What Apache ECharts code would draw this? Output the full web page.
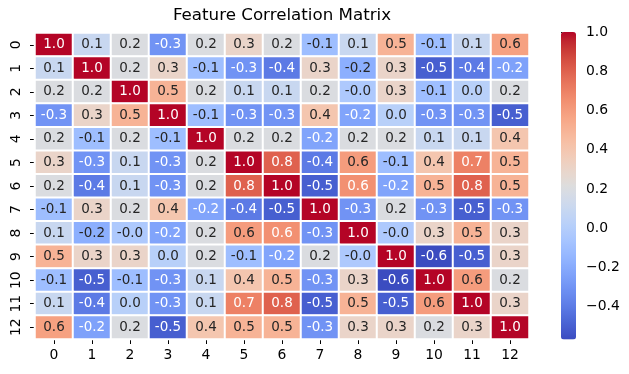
<!DOCTYPE html>
<html><head><meta charset="utf-8">
<script src="https://cdn.jsdelivr.net/npm/echarts@6/dist/echarts.min.js"></script>
<style>html,body{margin:0;padding:0;background:#fff}#c{width:629px;height:374px}</style>
</head><body><div id="c"></div>
<script>
const features = ['0','1','2','3','4','5','6','7','8','9','10','11','12'];
const corr = [
  [1.00, 0.10, 0.20,-0.30, 0.20, 0.30, 0.20,-0.10, 0.10, 0.50,-0.10, 0.10, 0.58],
  [0.10, 1.00, 0.20, 0.30,-0.10,-0.30,-0.40, 0.30,-0.18, 0.30,-0.50,-0.40,-0.24],
  [0.20, 0.20, 1.00, 0.50, 0.20, 0.10, 0.10, 0.20,-0.03, 0.30,-0.10, 0.02, 0.20],
  [-0.30,0.30, 0.50, 1.00,-0.10,-0.30,-0.30, 0.40,-0.23, 0.02,-0.30,-0.30,-0.50],
  [0.20,-0.10, 0.20,-0.10, 1.00, 0.20, 0.20,-0.23, 0.20, 0.20, 0.10, 0.10, 0.40],
  [0.30,-0.30, 0.10,-0.30, 0.20, 1.00, 0.80,-0.40, 0.60,-0.10, 0.40, 0.70, 0.50],
  [0.20,-0.40, 0.10,-0.30, 0.20, 0.80, 1.00,-0.50, 0.645,-0.23,0.50, 0.80, 0.50],
  [-0.10,0.30, 0.20, 0.40,-0.23,-0.40,-0.50, 1.00,-0.30, 0.20,-0.30,-0.50,-0.30],
  [0.10,-0.18,-0.03,-0.23, 0.20, 0.60, 0.645,-0.30,1.00,-0.03, 0.30, 0.50, 0.30],
  [0.50, 0.30, 0.30, 0.02, 0.20,-0.10,-0.23, 0.20,-0.03, 1.00,-0.567,-0.50,0.30],
  [-0.10,-0.50,-0.10,-0.30,0.10, 0.40, 0.50,-0.30, 0.30,-0.567,1.00, 0.60, 0.20],
  [0.10,-0.40, 0.02,-0.30, 0.10, 0.70, 0.80,-0.50, 0.50,-0.50, 0.60, 1.00, 0.30],
  [0.58,-0.24, 0.20,-0.50, 0.40, 0.50, 0.50,-0.30, 0.30, 0.30, 0.20, 0.30, 1.00]
];
const vMin = -0.567, vMax = 1.0;
const colorbarTicks = [-0.4, -0.2, 0.0, 0.2, 0.4, 0.6, 0.8, 1.0];
const chartTitle = 'Feature Correlation Matrix';

const LUT = [
 [59,76,192],[68,90,204],[77,104,215],[87,117,225],[98,130,234],[108,142,241],[119,154,247],[130,165,251],
 [141,176,254],[152,185,255],[163,194,255],[174,201,253],[184,208,249],[194,213,244],[204,217,238],[213,219,230],
 [221,221,221],[229,216,209],[236,211,197],[241,204,184],[245,196,172],[247,187,159],[247,177,147],[247,166,134],
 [244,154,123],[241,141,111],[236,127,99],[229,112,89],[222,96,77],[213,80,66],[203,62,56],[192,40,47],[180,4,38]
];
const lutHex = LUT.map(c => '#' + c.map(x => x.toString(16).padStart(2,'0')).join(''));
function cmap(v){
  let t = (v - vMin) / (vMax - vMin); t = Math.max(0, Math.min(1, t));
  const p = t * (LUT.length - 1), i = Math.min(LUT.length - 2, Math.floor(p)), f = p - i;
  return LUT[i].map((c, k) => c + (LUT[i+1][k] - c) * f);
}
function lum(rgb){
  const l = rgb.map(c => { c /= 255; return c <= 0.03928 ? c / 12.92 : Math.pow((c + 0.055) / 1.055, 2.4); });
  return 0.2126 * l[0] + 0.7152 * l[1] + 0.0722 * l[2];
}
const data = [];
corr.forEach((row, i) => row.forEach((v, j) => {
  data.push({ value: [j, i, v], label: { color: lum(cmap(v)) > 0.408 ? '#262626' : '#ffffff' } });
}));

const FF = 'DejaVu Sans';
const chart = echarts.init(document.getElementById('c'), null, { renderer: 'canvas' });
chart.setOption({
  animation: false,
  backgroundColor: '#fff',
  title: {
    text: chartTitle, left: 282, top: 7, textAlign: 'center', padding: 0,
    textStyle: { fontFamily: FF, fontSize: 16.7, fontWeight: 'normal', color: '#000' }
  },
  grid: [
    { left: 35, top: 33, width: 494, height: 306 },
    { left: 561, top: 32, width: 15, height: 307.5 }
  ],
  xAxis: [
    { type: 'category', data: features, gridIndex: 0, position: 'bottom',
      axisLine: { show: false }, splitLine: { show: false },
      axisTick: { show: true, alignWithLabel: true, length: 5, lineStyle: { color: '#000', width: 1 } },
      axisLabel: { fontFamily: FF, fontSize: 13.9, color: '#000', margin: 9 } },
    { type: 'value', gridIndex: 1, show: false, min: 0, max: 1 }
  ],
  yAxis: [
    { type: 'category', data: features, gridIndex: 0, inverse: true,
      axisLine: { show: false }, splitLine: { show: false },
      axisTick: { show: true, alignWithLabel: true, length: 5, lineStyle: { color: '#000', width: 1 } },
      axisLabel: { fontFamily: FF, fontSize: 13.9, color: '#000', rotate: 90, margin: 12 } },
    { type: 'value', gridIndex: 1, min: vMin, max: vMax, position: 'right',
      axisLine: { show: false }, splitLine: { show: false },
      axisTick: { show: true, length: 5, customValues: colorbarTicks, lineStyle: { color: '#000', width: 1 } },
      axisLabel: { customValues: colorbarTicks, fontFamily: FF, fontSize: 13.9, color: '#000', margin: 10,
        formatter: v => Number(v).toFixed(1).replace('-', '\u2212') } }
  ],
  visualMap: {
    type: 'continuous', min: vMin, max: vMax, calculable: false, seriesIndex: 0, dimension: 2,
    left: 561, top: 32, itemWidth: 15, itemHeight: 307.5, padding: 0, hoverLink: false,
    inRange: { color: lutHex }, textStyle: { color: 'transparent' }
  },
  series: [
    { type: 'heatmap', xAxisIndex: 0, yAxisIndex: 0, data: data,
      label: { show: true, fontFamily: FF, fontSize: 13.5, formatter: p => p.value[2].toFixed(1) },
      itemStyle: { borderColor: '#fff', borderWidth: 2 },
      emphasis: { disabled: true } },
    { type: 'scatter', xAxisIndex: 1, yAxisIndex: 1, data: [] }
  ]
});
</script></body></html>
